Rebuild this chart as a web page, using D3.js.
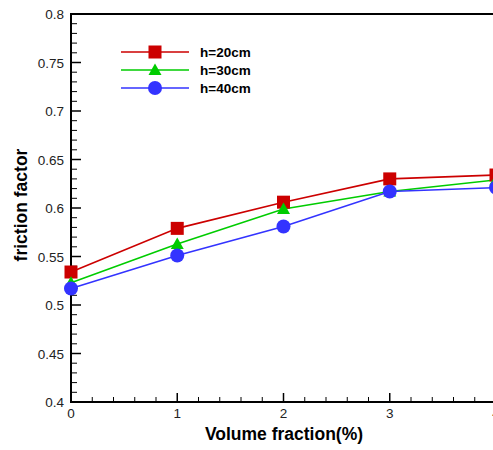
<!DOCTYPE html>
<html>
<head>
<meta charset="utf-8">
<script src="https://cdn.jsdelivr.net/npm/d3@7"></script>
<style>
  body { margin: 0; background: #fff; }
  svg { display: block; font-family: "Liberation Sans", Arial, sans-serif; }
</style>
</head>
<body>
<svg id="chart" width="493" height="450"></svg>
<script>
const volumeFraction = [0, 1, 2, 3, 4];
const h20 = [0.534, 0.579, 0.606, 0.630, 0.634];
const h30 = [0.523, 0.563, 0.599, 0.617, 0.629];
const h40 = [0.517, 0.551, 0.581, 0.617, 0.621];
const seriesNames = ['h=20cm', 'h=30cm', 'h=40cm'];
const xTicks = [0, 1, 2, 3, 4];
const yTicks = [0.4, 0.45, 0.5, 0.55, 0.6, 0.65, 0.7, 0.75, 0.8];

const series = [
  { name: seriesNames[0], values: h20, color: '#cc0000', marker: 'square' },
  { name: seriesNames[1], values: h30, color: '#00cc00', marker: 'triangle' },
  { name: seriesNames[2], values: h40, color: '#3333ff', marker: 'circle' }
];

const svg = d3.select('#chart');
const plotLeft = 71, plotTop = 14, plotBottom = 402, plotRight = 496;

const x = d3.scaleLinear().domain([0, 4]).range([plotLeft, plotRight]);
const y = d3.scaleLinear().domain([0.4, 0.8]).range([plotBottom, plotTop]);

// minor ticks
const xMinor = d3.range(0, 4.001, 0.2).filter((v) => Math.abs(v - Math.round(v)) > 1e-6);
const yMinor = d3.range(0.4, 0.8001, 0.01).filter((v) => Math.abs(v * 20 - Math.round(v * 20)) > 1e-6);

const axes = svg.append('g').attr('stroke', '#000');

axes.selectAll('.xmaj').data(xTicks).join('line')
  .attr('x1', (d) => x(d)).attr('x2', (d) => x(d))
  .attr('y1', plotBottom).attr('y2', plotBottom - 9).attr('stroke-width', 1.5);
axes.selectAll('.xmin').data(xMinor).join('line')
  .attr('x1', (d) => x(d)).attr('x2', (d) => x(d))
  .attr('y1', plotBottom).attr('y2', plotBottom - 5).attr('stroke-width', 1);
axes.selectAll('.ymaj').data(yTicks).join('line')
  .attr('x1', plotLeft).attr('x2', plotLeft + 10)
  .attr('y1', (d) => y(d)).attr('y2', (d) => y(d)).attr('stroke-width', 1.5);
axes.selectAll('.ymin').data(yMinor).join('line')
  .attr('x1', plotLeft).attr('x2', plotLeft + 6)
  .attr('y1', (d) => y(d)).attr('y2', (d) => y(d)).attr('stroke-width', 1);

// frame
axes.append('path')
  .attr('d', `M${plotRight},${plotTop}H${plotLeft}V${plotBottom}H${plotRight}`)
  .attr('fill', 'none').attr('stroke-width', 2);

// tick labels (the "4" is cut by the right edge, as in the reference)
svg.append('g').selectAll('text').data(xTicks).join('text')
  .attr('x', (d) => x(d)).attr('y', plotBottom + 16)
  .attr('text-anchor', 'middle').attr('font-size', 13.5).attr('fill', '#222')
  .text((d) => d);
svg.append('g').selectAll('text').data(yTicks).join('text')
  .attr('x', plotLeft - 7).attr('y', (d) => y(d) + 5)
  .attr('text-anchor', 'end').attr('font-size', 13.5).attr('fill', '#222')
  .text((d) => d3.format('')(d));

// axis titles
svg.append('text')
  .attr('x', 284).attr('y', 440)
  .attr('text-anchor', 'middle').attr('font-size', 17.5).attr('font-weight', 'bold')
  .text('Volume fraction(%)');
svg.append('text')
  .attr('transform', 'translate(27,205) rotate(-90)')
  .attr('text-anchor', 'middle').attr('font-size', 17.5).attr('font-weight', 'bold')
  .text('friction factor');

function drawMarker(sel, type, color) {
  if (type === 'square') {
    sel.append('rect').attr('x', -6.5).attr('y', -6.5).attr('width', 13).attr('height', 13).attr('fill', color);
  } else if (type === 'triangle') {
    sel.append('path').attr('d', 'M0,-6.5L6.5,5L-6.5,5Z').attr('fill', color);
  } else {
    sel.append('circle').attr('r', 7).attr('fill', color);
  }
}

const plot = svg.append('g');
const line = d3.line().x((d, i) => x(volumeFraction[i])).y((d) => y(d));

series.forEach((s) => {
  plot.append('path').datum(s.values)
    .attr('d', line).attr('fill', 'none')
    .attr('stroke', s.color).attr('stroke-width', 1.6);
});
series.forEach((s) => {
  plot.selectAll(null).data(s.values).join('g')
    .attr('transform', (d, i) => `translate(${x(volumeFraction[i])},${y(d)})`)
    .each(function () { drawMarker(d3.select(this), s.marker, s.color); });
});

// legend
const legend = svg.append('g');
series.forEach((s, i) => {
  const ly = 52 + i * 18;
  legend.append('line').attr('x1', 121).attr('x2', 189).attr('y1', ly).attr('y2', ly)
    .attr('stroke', s.color).attr('stroke-width', 1.6);
  drawMarker(legend.append('g').attr('transform', `translate(155,${ly})`), s.marker, s.color);
  legend.append('text').attr('x', 200).attr('y', ly + 5)
    .attr('font-size', 13.5).attr('font-weight', 'bold').text(s.name);
});
</script>
</body>
</html>
